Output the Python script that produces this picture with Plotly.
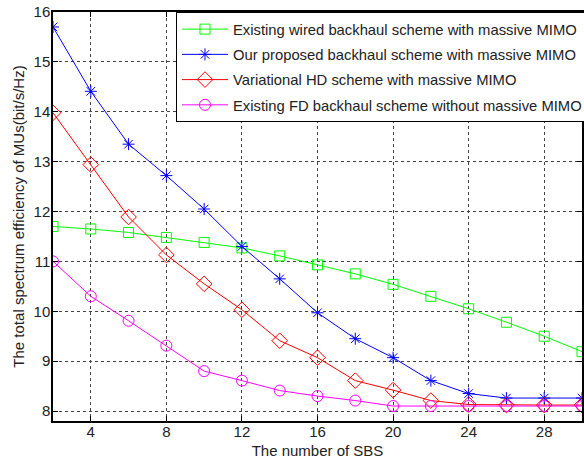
import plotly.graph_objects as go

sbs = [2, 4, 6, 8, 10, 12, 14, 16, 18, 20, 22, 24, 26, 28, 30]
wired = [11.70, 11.65, 11.58, 11.48, 11.38, 11.27, 11.11, 10.93, 10.75, 10.54, 10.30, 10.05, 9.78, 9.50, 9.19]
proposed = [15.70, 14.41, 13.35, 12.72, 12.05, 11.30, 10.65, 9.97, 9.45, 9.07, 8.61, 8.35, 8.26, 8.26, 8.26]
hd = [13.98, 12.94, 11.89, 11.13, 10.55, 10.03, 9.41, 9.07, 8.61, 8.42, 8.21, 8.13, 8.12, 8.12, 8.12]
fd = [11.00, 10.30, 9.81, 9.31, 8.80, 8.61, 8.41, 8.30, 8.21, 8.10, 8.10, 8.10, 8.10, 8.10, 8.10]

names = [
    "Existing wired backhaul scheme with massive MIMO",
    "Our proposed backhaul scheme with massive MIMO",
    "Variational HD scheme with massive MIMO",
    "Existing FD backhaul scheme without massive MIMO",
]
series = [wired, proposed, hd, fd]
colors = ["#00FF00", "#0000FF", "#FF0000", "#FF00FF"]
symbols = ["square-open", "asterisk-open", "diamond-open", "circle-open"]
sizes = [10, 10, 12, 11]

x_ticks = [4, 8, 12, 16, 20, 24, 28]
y_ticks = [8, 9, 10, 11, 12, 13, 14, 15, 16]

fig = go.Figure()
for i, (name, ys, c, s, sz) in enumerate(zip(names, series, colors, symbols, sizes)):
    fig.add_trace(go.Scatter(
        x=sbs, y=ys, name=name, mode="lines+markers", legendgroup=f"g{i}",
        line=dict(color=c, width=1),
        marker=dict(symbol=s, size=sz, color=c, line=dict(color=c, width=1)),
    ))

font_family = "Arial, Liberation Sans, sans-serif"
axis_common = dict(
    showline=True, linecolor="black", linewidth=1.5, mirror="ticks",
    ticks="inside", ticklen=5, tickcolor="black",
    showgrid=True, gridcolor="#444444", griddash="dot", gridwidth=1,
    zeroline=False, tickfont=dict(size=15, color="#222"), automargin=False,
)
fig.update_layout(
    width=584, height=459,
    margin=dict(l=53, r=2, t=12, b=38, autoexpand=False),
    paper_bgcolor="white", plot_bgcolor="white",
    font=dict(family=font_family, color="#222"),
    xaxis=dict(range=[2, 30], tickvals=x_ticks, ticklabelstandoff=-4,
               title=dict(text="The number of SBS", font=dict(size=15), standoff=9),
               **axis_common),
    yaxis=dict(range=[7.8, 16], tickvals=y_ticks, ticklabelstandoff=-2,
               title=dict(text="The total spectrum efficiency of MUs(bit/s/Hz)", font=dict(size=15), standoff=5),
               **axis_common),
    legend=dict(x=0.2325, y=1, xanchor="left", yanchor="top",
                bgcolor="white", bordercolor="black", borderwidth=1,
                font=dict(size=14.8, color="#222"), itemwidth=46,
                tracegroupgap=3),
    showlegend=True,
)
fig.write_html("out.html", config={"displayModeBar": False},
               post_script="document.body.style.margin='0';")
